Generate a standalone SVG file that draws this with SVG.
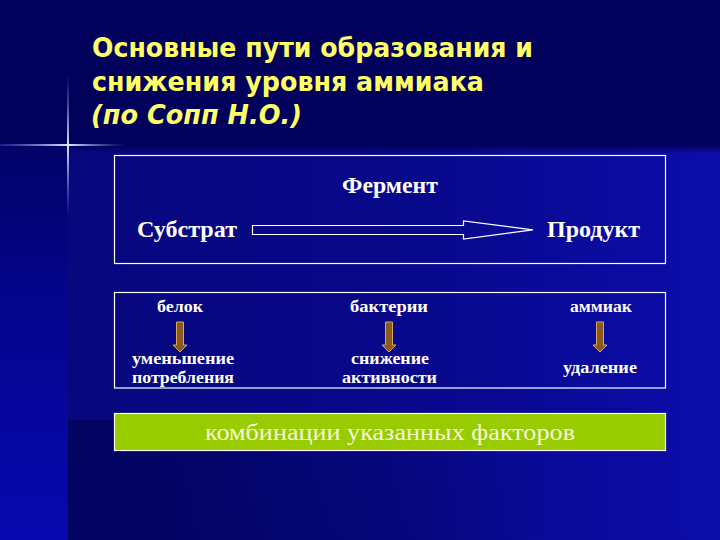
<svg xmlns="http://www.w3.org/2000/svg" width="720" height="540" viewBox="0 0 720 540">
  <defs>
    <linearGradient id="bgMain" x1="0" y1="0" x2="1" y2="0">
      <stop offset="0" stop-color="#07077e"/>
      <stop offset="0.5" stop-color="#08088a"/>
      <stop offset="1" stop-color="#0c0caa"/>
    </linearGradient>
    <linearGradient id="bgShade" gradientUnits="userSpaceOnUse" x1="520" y1="420" x2="160" y2="540">
      <stop offset="0" stop-color="#000050" stop-opacity="0"/>
      <stop offset="1" stop-color="#000050" stop-opacity="0.6"/>
    </linearGradient>
    <linearGradient id="bgLeft" x1="0" y1="0" x2="0" y2="1">
      <stop offset="0" stop-color="#020268"/>
      <stop offset="0.4" stop-color="#05058e"/>
      <stop offset="1" stop-color="#0808b0"/>
    </linearGradient>
    <linearGradient id="flareH" x1="0" y1="0" x2="1" y2="0">
      <stop offset="0" stop-color="#6f8fff" stop-opacity="0.2"/>
      <stop offset="0.55" stop-color="#dfe8ff" stop-opacity="1"/>
      <stop offset="1" stop-color="#6f8fff" stop-opacity="0"/>
    </linearGradient>
    <linearGradient id="flareV" x1="0" y1="0" x2="0" y2="1">
      <stop offset="0" stop-color="#6f8fff" stop-opacity="0"/>
      <stop offset="0.5" stop-color="#dfe8ff" stop-opacity="1"/>
      <stop offset="1" stop-color="#6f8fff" stop-opacity="0"/>
    </linearGradient>
    <linearGradient id="fadeBand" x1="0" y1="0" x2="0" y2="1">
      <stop offset="0" stop-color="#01015c" stop-opacity="1"/>
      <stop offset="1" stop-color="#01015c" stop-opacity="0"/>
    </linearGradient>
    <g id="brownArrow">
      <polygon points="-3.5,0 3.5,0 3.5,23 7,23 0,30 -7,23 -3.5,23" fill="#8a5a1c" stroke="#d9a85a" stroke-width="1"/>
    </g>
  </defs>
  <style>
    .title { font-family: "DejaVu Sans", "Liberation Sans", sans-serif; font-weight: bold; font-size: 27px; fill: #ffff66; }
    .big { font-family: "Liberation Serif", "DejaVu Serif", serif; font-weight: bold; font-size: 24px; fill: #ffffff; }
    .small { font-family: "Liberation Serif", "DejaVu Serif", serif; font-weight: bold; font-size: 17px; fill: #ffffff; }
    .pair { font-size: 16.5px; }
    .green { font-family: "Liberation Serif", "DejaVu Serif", serif; font-size: 24px; fill: #f4f4dc; }
    .frame { fill: none; stroke: #ffffff; stroke-width: 1.2; }
  </style>

  <!-- background -->
  <rect x="0" y="0" width="720" height="540" fill="#01015c"/>
  <rect x="68" y="145" width="652" height="395" fill="url(#bgMain)"/>
  <rect x="68" y="420" width="652" height="120" fill="url(#bgShade)"/>
  <rect x="0" y="145" width="68" height="395" fill="url(#bgLeft)"/>
  <rect x="68" y="145" width="652" height="8" fill="url(#fadeBand)"/>
  <!-- flare -->
  <rect x="0" y="144" width="125" height="2" fill="url(#flareH)"/>
  <rect x="67" y="75" width="2" height="142" fill="url(#flareV)"/>

  <!-- title -->
  <g id="title">
    <text class="title" x="92" y="57" textLength="441" lengthAdjust="spacingAndGlyphs">Основные пути образования и</text>
    <text class="title" x="92" y="91" textLength="392" lengthAdjust="spacingAndGlyphs">снижения уровня аммиака</text>
    <text class="title" x="91" y="124" font-style="italic" textLength="211" lengthAdjust="spacingAndGlyphs">(по Сопп Н.О.)</text>
  </g>

  <!-- box 1 -->
  <g id="reaction-box">
    <rect class="frame" x="114.5" y="155.5" width="551" height="108" fill="#0a0a8e"/>
    <text class="big" x="342" y="193" textLength="96" lengthAdjust="spacingAndGlyphs">Фермент</text>
  </g>
  <g id="substrate">
    <text class="big" x="137" y="237" textLength="100" lengthAdjust="spacingAndGlyphs">Субстрат</text>
  </g>
  <g id="product">
    <text class="big" x="547" y="237" textLength="93" lengthAdjust="spacingAndGlyphs">Продукт</text>
  </g>

  <!-- box 2 -->
  <g id="factors-box">
    <rect class="frame" x="114.5" y="292.5" width="551" height="95.5" fill="#04046f"/>
  </g>
  <g id="protein">
    <text class="small" x="157" y="312" textLength="46" lengthAdjust="spacingAndGlyphs">белок</text>
    <text class="small pair" x="132" y="364" textLength="102" lengthAdjust="spacingAndGlyphs">уменьшение</text>
    <text class="small pair" x="132" y="382.5" textLength="102" lengthAdjust="spacingAndGlyphs">потребления</text>
  </g>
  <g id="bacteria">
    <text class="small" x="350" y="312" textLength="78" lengthAdjust="spacingAndGlyphs">бактерии</text>
    <text class="small pair" x="351" y="364" textLength="78" lengthAdjust="spacingAndGlyphs">снижение</text>
    <text class="small pair" x="342" y="382.5" textLength="95" lengthAdjust="spacingAndGlyphs">активности</text>
  </g>
  <g id="ammonia">
    <text class="small" x="570" y="312" textLength="62" lengthAdjust="spacingAndGlyphs">аммиак</text>
    <text class="small" x="563" y="373" textLength="74" lengthAdjust="spacingAndGlyphs">удаление</text>
  </g>

  <!-- combination bar -->
  <g id="combination">
    <rect x="114.5" y="413.5" width="551" height="37" fill="#99cc00" stroke="#ffffff" stroke-width="1.2"/>
    <text class="green" x="390" y="440" text-anchor="middle" textLength="370" lengthAdjust="spacingAndGlyphs">комбинации указанных факторов</text>
  </g>

  <!-- connectors -->
  <g id="connectors">
    <polygon points="252.5,225.5 463.5,225.5 463.5,221 533,229.8 463.5,239 463.5,234.5 252.5,234.5" fill="none" stroke="#ffffff" stroke-width="1.2"/>
    <use href="#brownArrow" x="180" y="322"/>
    <use href="#brownArrow" x="389" y="322"/>
    <use href="#brownArrow" x="600" y="322"/>
  </g>
</svg>
